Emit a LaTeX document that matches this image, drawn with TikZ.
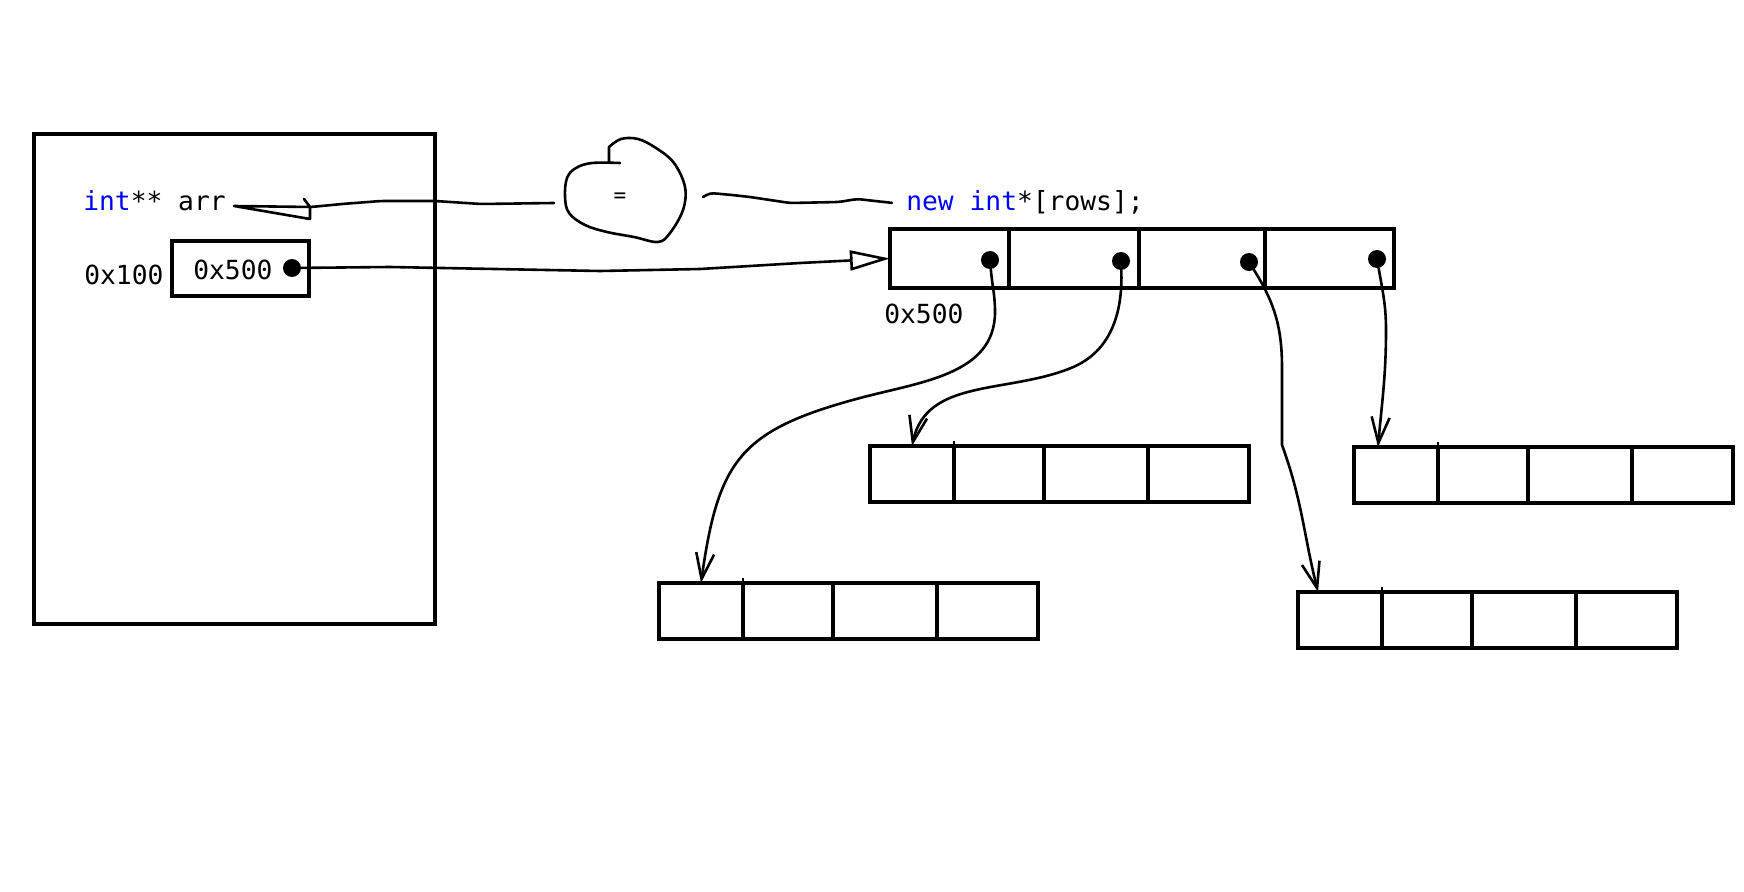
\documentclass[tikz,border=0pt]{standalone}
\usepackage{fontspec}
\setmonofont{DejaVu Sans Mono}
\usepackage{xcolor}
\usepackage{tikz}
\usetikzlibrary{positioning,arrows.meta}
\pgfkeys{tikz/memcell/.style={draw,rectangle,line width=1mm,inner sep=0pt,outer sep=0pt,minimum height=14mm}}
\pgfkeys{tikz/cellA/.style={memcell,minimum width=21mm}}
\pgfkeys{tikz/cellB/.style={memcell,minimum width=22.5mm}}
\pgfkeys{tikz/cellC/.style={memcell,minimum width=26mm}}
\pgfkeys{tikz/cellD/.style={memcell,minimum width=25.25mm}}
\pgfkeys{tikz/codetxt/.style={font=\ttfamily\fontsize{18.7}{22}\selectfont,inner sep=0pt,anchor=base west}}
\pgfkeys{tikz/wire/.style={line width=0.65mm,line join=round,line cap=round}}
\pgfkeys{tikz/ptr/.style={wire,-{Straight Barb[length=6.5mm,width=4.5mm]}}}
\pgfkeys{tikz/ptrdot/.style={circle,fill,inner sep=0pt,minimum size=4.5mm}}

\begin{document}
\begin{tikzpicture}[x=0.25mm,y=-0.25mm]
  \useasboundingbox (0,0) rectangle (1744,892);

  \node[memcell,minimum width=100.25mm,minimum height=122.5mm,anchor=north west] (frame) at (34,134) {};
  \node[codetxt] (arr) at (83,211) {\textcolor{blue}{int}** arr};
  \node[codetxt] (addr) at (84,284) {0x100};
  \node[memcell,minimum width=34.25mm,minimum height=13.75mm,anchor=north west] (cellp) at (172,241) {};
  \node[codetxt] (pval) at (193,279) {0x500};
  \node[ptrdot] (d0) at (292,268) {};

  \draw[wire] plot[smooth,tension=0.6] coordinates {(620,163) (592,163) (576,168) (567,178) (565,197) (569,213) (585,225) (607,232) (634,237) (658,242) (670,233) (683,210) (685,187) (674,163) (656,148) (638,139) (621,139) (609,147)} -- (609,161);
  \node[codetxt,anchor=center,font=\ttfamily\fontsize{15}{18}\selectfont] (eq) at (620,198) {=};
  \coordinate (bL) at (554,203);
  \coordinate (bR) at (703,197);

  \node[codetxt] (newarr) at (906,211) {\textcolor{blue}{new int}*[rows];};

  \node[memcell,minimum width=29.75mm,minimum height=14.75mm,anchor=north west] (t1) at (890,229) {};
  \node[memcell,minimum width=32.375mm,minimum height=14.75mm,right=0pt of t1] (t2) {};
  \node[memcell,minimum width=31.625mm,minimum height=14.75mm,right=0pt of t2] (t3) {};
  \node[memcell,minimum width=32.25mm,minimum height=14.75mm,right=0pt of t3] (t4) {};
  \node[codetxt] (base) at (884,323) {0x500};

  \node[ptrdot] (d1) at (990,260) {};
  \node[ptrdot] (d2) at (1121,261) {};
  \node[ptrdot] (d3) at (1249,262) {};
  \node[ptrdot] (d4) at (1377,259) {};

  \node[cellA,anchor=north west] (a1) at (659,583) {};
  \node[cellB,right=0pt of a1] (a2) {};
  \node[cellC,right=0pt of a2] (a3) {};
  \node[cellD,right=0pt of a3] (a4) {};

  \node[cellA,anchor=north west] (b1) at (870,446) {};
  \node[cellB,right=0pt of b1] (b2) {};
  \node[cellC,right=0pt of b2] (b3) {};
  \node[cellD,right=0pt of b3] (b4) {};

  \node[cellA,anchor=north west] (c1) at (1354,447) {};
  \node[cellB,right=0pt of c1] (c2) {};
  \node[cellC,right=0pt of c2] (c3) {};
  \node[cellD,right=0pt of c3] (c4) {};

  \node[cellA,anchor=north west] (e1) at (1298,592) {};
  \node[cellB,right=0pt of e1] (e2) {};
  \node[cellC,right=0pt of e2] (e3) {};
  \node[cellD,right=0pt of e3] (e4) {};

  \draw[line width=1.5pt] (a2.north west) -- ++(0,-5);
  \draw[line width=1.5pt] (b2.north west) -- ++(0,-5);
  \draw[line width=1.5pt] (c2.north west) -- ++(0,-5);
  \draw[line width=1.5pt] (e2.north west) -- ++(0,-5);

  \draw[wire,rounded corners=1mm] (bL) -- (481,204) -- (435,201) -- (381,201) -- (342,204) -- (311,207) [sharp corners] -- ([xshift=2mm,yshift=-1.2mm]arr.east) -- (310,219) -- (310,207) -- (304,199);
  \draw[wire,rounded corners=1mm] (bR) -- (710,193) -- (732,195) -- (750,197) -- (790,203) -- (839,202) -- (857,199) -- ([xshift=-3.5mm]newarr.west);
  \draw[wire,-{Triangle[open,length=10mm,width=5mm]}] (d0) -- (390,267) -- (600,271) -- (700,269) -- (800,263) -- (t1.west);

  \draw[ptr] (d1) to[out=-85,in=90] (995,312) to[out=-90,in=15] (860,398) to[out=195,in=82,looseness=1.3] (a1.north);
  \draw[ptr] (d2) to[out=-88,in=22] (1071,368) to[out=202,in=78] (b1.north);
  \draw[ptr] (d3) to[out=-58,in=90] (1282,368) -- (1282,445) to[out=-70,in=104] ([xshift=-5.5mm]e1.north);
  \draw[ptr] (d4) to[out=-80,in=90] (1386,330) to[out=-90,in=85] ([xshift=-4.5mm]c1.north);
\end{tikzpicture}
\end{document}
